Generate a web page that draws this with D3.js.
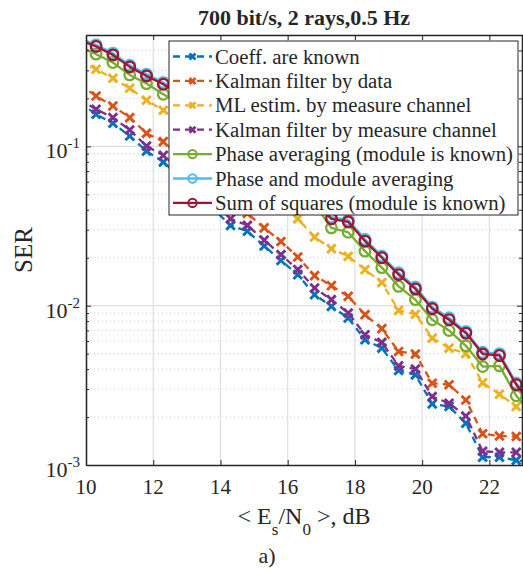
<!DOCTYPE html>
<html>
<head>
<meta charset="utf-8">
<script src="https://cdn.jsdelivr.net/npm/d3@7"></script>
<style>
  html, body { margin: 0; padding: 0; background: #fff; }
  svg { display: block; }
  text { font-family: "Liberation Serif", "Times New Roman", serif; fill: #262626; }
</style>
</head>
<body>
<svg id="chart" width="523" height="570"></svg>
<script>
// Es/N0 sample points, dB
const snr = [9.8, 10.3, 10.8, 11.3, 11.8, 12.3, 12.8, 13.3, 13.8, 14.3, 14.8, 15.3, 15.8, 16.3,
             16.8, 17.3, 17.8, 18.3, 18.8, 19.3, 19.8, 20.3, 20.8, 21.3, 21.8, 22.3, 22.8, 23.3];

// Symbol error rate for each receiver
const serCoeffKnown = [0.1883, 0.1590, 0.1396, 0.1161, 0.0934, 0.0797, 0.0638, 0.0506, 0.0402, 0.0319,
  0.0293, 0.0237, 0.0192, 0.01567, 0.01173, 0.00990, 0.00837, 0.00611, 0.00542, 0.00392,
  0.00368, 0.00242, 0.00233, 0.00183, 0.00112, 0.00112, 0.00107, 0.00104];
const serKalmanData = [0.2436, 0.2072, 0.1793, 0.1515, 0.1207, 0.1071, 0.0865, 0.0707, 0.0568, 0.0464,
  0.0379, 0.0308, 0.0253, 0.0202, 0.01544, 0.01336, 0.01144, 0.00878, 0.00717, 0.00516,
  0.00497, 0.00326, 0.00319, 0.00256, 0.00157, 0.00152, 0.00151, 0.00150];
const serMlMeasure = [0.3440, 0.3050, 0.2677, 0.2317, 0.1947, 0.1684, 0.1415, 0.1173, 0.0971, 0.0793,
  0.0648, 0.0529, 0.0432, 0.0351, 0.0270, 0.0228, 0.0204, 0.01684, 0.01396, 0.00934,
  0.00884, 0.00626, 0.00542, 0.00501, 0.00328, 0.00278, 0.00233, 0.00184];
const serKalmanMeasure = [0.1975, 0.1709, 0.1515, 0.1266, 0.1004, 0.0878, 0.0707, 0.0560, 0.0444, 0.0351,
  0.0319, 0.0258, 0.0209, 0.01684, 0.01292, 0.01091, 0.00900, 0.00657, 0.00588, 0.00419,
  0.00400, 0.00269, 0.00244, 0.00203, 0.00122, 0.00120, 0.00120, 0.00119];
const serPhaseAvg = [0.4274, 0.3790, 0.3361, 0.2808, 0.2478, 0.2123, 0.1837, 0.1567, 0.1326, 0.1115,
  0.0930, 0.0770, 0.0638, 0.0525, 0.0432, 0.0308, 0.0289, 0.0220, 0.01734, 0.01322,
  0.01091, 0.00816, 0.00699, 0.00560, 0.00415, 0.00419, 0.00272, 0.00206];
const serPhaseModAvg = [0.478, 0.434, 0.385, 0.323, 0.284, 0.252, 0.218, 0.186, 0.156, 0.130,
  0.108, 0.088, 0.0715, 0.0574, 0.0455, 0.0360, 0.0345, 0.0261, 0.0205, 0.0161,
  0.0131, 0.0098, 0.0084, 0.0069, 0.0051, 0.0050, 0.00327, 0.00244];
const serSumSquares = [0.467, 0.4236, 0.3752, 0.3152, 0.2767, 0.2454, 0.2123, 0.1811, 0.1522, 0.1270,
  0.1052, 0.0859, 0.0697, 0.0560, 0.0444, 0.0351, 0.0336, 0.0254, 0.0200, 0.01567,
  0.01274, 0.00957, 0.00816, 0.00673, 0.00497, 0.00487, 0.00319, 0.00238];

const seriesNames = [
  "Coeff. are known",
  "Kalman filter by data",
  "ML estim. by measure channel",
  "Kalman filter by measure channel",
  "Phase averaging (module is known)",
  "Phase and module averaging",
  "Sum of squares (module is known)"
];
const xTicks = [10, 12, 14, 16, 18, 20, 22];
const yDecades = [1e-3, 1e-2, 1e-1];
const yDecadeExp = ["-3", "-2", "-1"];

const series = [
  { name: seriesNames[0], values: serCoeffKnown,    color: "#0072BD", dashed: true,  marker: "x" },
  { name: seriesNames[1], values: serKalmanData,    color: "#D95319", dashed: true,  marker: "x" },
  { name: seriesNames[2], values: serMlMeasure,     color: "#EDB120", dashed: true,  marker: "x" },
  { name: seriesNames[3], values: serKalmanMeasure, color: "#7E2F8E", dashed: true,  marker: "x" },
  { name: seriesNames[4], values: serPhaseAvg,      color: "#77AC30", dashed: false, marker: "o" },
  { name: seriesNames[5], values: serPhaseModAvg,   color: "#4DBEEE", dashed: false, marker: "o" },
  { name: seriesNames[6], values: serSumSquares,    color: "#A2142F", dashed: false, marker: "o" }
];

const svg = d3.select("#chart");
const plotL = 86, plotR = 523, plotT = 35, plotB = 465;
const xDomain = [10, 23], yDomain = [1e-3, 0.5];
const x = d3.scaleLinear().domain(xDomain).range([plotL, plotR]);
const y = d3.scaleLog().domain(yDomain).range([plotB, plotT]);
const axisColor = "#262626";

svg.append("defs").append("clipPath").attr("id", "plotClip")
  .append("rect").attr("x", plotL).attr("y", plotT).attr("width", plotR - plotL).attr("height", plotB - plotT);

// minor horizontal grid (dotted)
const minorVals = [];
[1e-3, 1e-2, 1e-1].forEach(d => { for (let m = 2; m <= 9; m++) { const v = d * m; if (v <= yDomain[1]) minorVals.push(v); } });
const grid = svg.append("g");
grid.selectAll("line.minor").data(minorVals).join("line")
  .attr("x1", plotL).attr("x2", plotR)
  .attr("y1", d => y(d)).attr("y2", d => y(d))
  .attr("stroke", "#cfcfcf").attr("stroke-width", 1).attr("stroke-dasharray", "1,3");
// major grid
grid.append("g").selectAll("line").data(yDecades.slice(1)).join("line")
  .attr("x1", plotL).attr("x2", plotR)
  .attr("y1", d => y(d)).attr("y2", d => y(d))
  .attr("stroke", "#dedede").attr("stroke-width", 1.2);
grid.append("g").selectAll("line").data(xTicks.slice(1)).join("line")
  .attr("x1", d => x(d)).attr("x2", d => x(d))
  .attr("y1", plotT).attr("y2", plotB)
  .attr("stroke", "#dedede").attr("stroke-width", 1.2);

// axes with inward ticks on all four sides
const tickLen = 5;
const axBottom = d3.axisBottom(x).tickValues(xTicks).tickSizeInner(-tickLen).tickSizeOuter(0).tickFormat("");
const axTop = d3.axisTop(x).tickValues(xTicks).tickSizeInner(-tickLen).tickSizeOuter(0).tickFormat("");
const axLeftMaj = d3.axisLeft(y).tickValues(yDecades).tickSizeInner(-tickLen).tickSizeOuter(0).tickFormat("");
const axLeftMin = d3.axisLeft(y).tickValues(minorVals).tickSizeInner(-3).tickSizeOuter(0).tickFormat("");
const axRightMaj = d3.axisRight(y).tickValues(yDecades).tickSizeInner(-tickLen).tickSizeOuter(0).tickFormat("");
const axRightMin = d3.axisRight(y).tickValues(minorVals).tickSizeInner(-3).tickSizeOuter(0).tickFormat("");

function styleAxis(g) {
  g.selectAll("path").attr("stroke", axisColor).attr("stroke-width", 1.3);
  g.selectAll("line").attr("stroke", axisColor).attr("stroke-width", 1);
}

// series
const lineGen = d3.line().x((d, i) => x(snr[i])).y(d => y(d));
const plot = svg.append("g").attr("clip-path", "url(#plotClip)");
series.forEach(s => {
  plot.append("path")
    .attr("d", lineGen(s.values))
    .attr("fill", "none")
    .attr("stroke", s.color)
    .attr("stroke-width", 2.3)
    .attr("stroke-dasharray", s.dashed ? "7,5" : null)
    .attr("stroke-linejoin", "round");
  const pts = s.values.map((v, i) => ({ xv: snr[i], v })).filter(p => p.xv >= xDomain[0] && p.xv <= xDomain[1]);
  if (s.marker === "o") {
    plot.append("g").selectAll("circle").data(pts).join("circle")
      .attr("cx", p => x(p.xv)).attr("cy", p => y(p.v)).attr("r", 5.3)
      .attr("fill", "none").attr("stroke", s.color).attr("stroke-width", 2.3);
  } else {
    const a = 4.3;
    plot.append("g").selectAll("path").data(pts).join("path")
      .attr("d", p => { const cx = x(p.xv), cy = y(p.v); return `M${cx - a},${cy - a}L${cx + a},${cy + a}M${cx - a},${cy + a}L${cx + a},${cy - a}`; })
      .attr("stroke", s.color).attr("stroke-width", 2.9).attr("fill", "none");
  }
});

svg.append("g").attr("transform", `translate(0,${plotB})`).call(axBottom).call(styleAxis);
svg.append("g").attr("transform", `translate(0,${plotT})`).call(axTop).call(styleAxis);
svg.append("g").attr("transform", `translate(${plotL},0)`).call(axLeftMin).call(styleAxis);
svg.append("g").attr("transform", `translate(${plotL},0)`).call(axLeftMaj).call(styleAxis);
svg.append("g").attr("transform", `translate(${plotR - 1},0)`).call(axRightMin).call(styleAxis);
svg.append("g").attr("transform", `translate(${plotR - 1},0)`).call(axRightMaj).call(styleAxis);

// tick labels
svg.append("g").selectAll("text").data(xTicks).join("text")
  .attr("x", d => x(d)).attr("y", plotB + 29)
  .attr("text-anchor", "middle").attr("font-size", 21)
  .text(d => d);

const yl = svg.append("g").selectAll("text").data(yDecades).join("text")
  .attr("x", plotL - 6).attr("y", d => y(d) + 12)
  .attr("text-anchor", "end").attr("font-size", 22);
yl.append("tspan").text("10");
yl.append("tspan").attr("dy", -10).attr("font-size", 15).text((d, i) => yDecadeExp[i]);

// axis titles
svg.append("text")
  .attr("transform", `translate(32,250) rotate(-90)`)
  .attr("text-anchor", "middle").attr("font-size", 25)
  .text("SER");

const xl = svg.append("text").attr("x", 304).attr("y", 524)
  .attr("text-anchor", "middle").attr("font-size", 24);
xl.append("tspan").text("< E");
xl.append("tspan").attr("dy", 11).attr("font-size", 17).text("s");
xl.append("tspan").attr("dy", -11).text("/N");
xl.append("tspan").attr("dy", 11).attr("font-size", 17).text("0");
xl.append("tspan").attr("dy", -11).text(" >, dB");

svg.append("text").attr("x", 267).attr("y", 563)
  .attr("text-anchor", "middle").attr("font-size", 22).text("a)");

svg.append("text").attr("x", 304).attr("y", 25)
  .attr("text-anchor", "middle").attr("font-size", 22).attr("font-weight", "bold")
  .text("700 bit/s, 2 rays,0.5 Hz");

// legend
const lgX = 169, lgY = 41, lgW = 349, lgH = 174, rowH = 24.4;
const lg = svg.append("g");
lg.append("rect").attr("x", lgX).attr("y", lgY).attr("width", lgW).attr("height", lgH)
  .attr("fill", "#fff").attr("stroke", axisColor).attr("stroke-width", 1);
series.forEach((s, i) => {
  const cy = lgY + 15.5 + i * rowH;
  const x0 = lgX + 4, x1 = lgX + 43, cx = (x0 + x1) / 2;
  lg.append("line").attr("x1", x0).attr("x2", x1).attr("y1", cy).attr("y2", cy)
    .attr("stroke", s.color).attr("stroke-width", 2.3)
    .attr("stroke-dasharray", s.dashed ? "7,5" : null);
  if (s.marker === "o") {
    lg.append("circle").attr("cx", cx).attr("cy", cy).attr("r", 4.2)
      .attr("fill", "none").attr("stroke", s.color).attr("stroke-width", 2);
  } else {
    const a = 3;
    lg.append("path").attr("d", `M${cx - a},${cy - a}L${cx + a},${cy + a}M${cx - a},${cy + a}L${cx + a},${cy - a}`)
      .attr("stroke", s.color).attr("stroke-width", 2.8);
  }
  lg.append("text").attr("x", lgX + 46).attr("y", cy + 7).attr("font-size", 20.8).text(s.name);
});
</script>
</body>
</html>
